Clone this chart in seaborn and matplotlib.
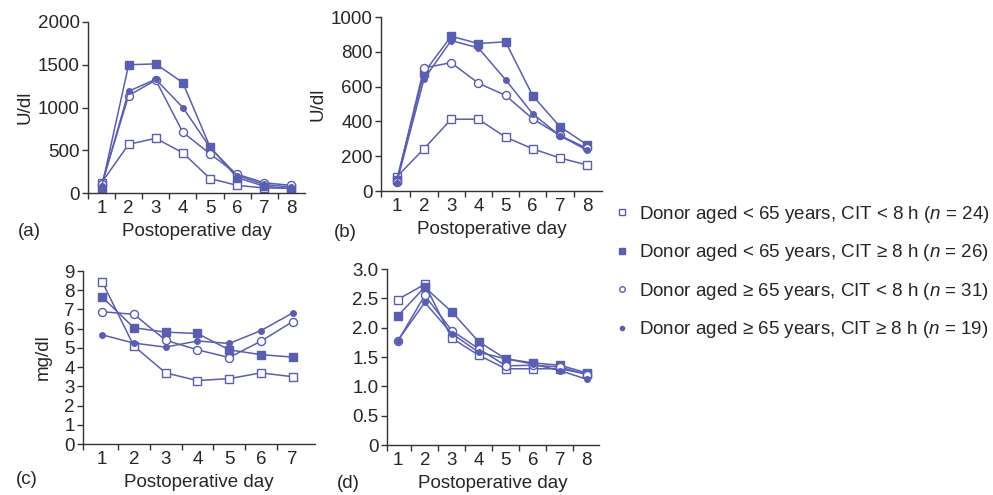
import matplotlib
matplotlib.use("Agg")
import matplotlib.pyplot as plt
from matplotlib.lines import Line2D
import seaborn as sns
import pandas as pd

sns.set_theme(style="ticks")
plt.rcParams['font.family'] = ['Liberation Sans', 'DejaVu Sans']
plt.rcParams['mathtext.fontset'] = 'custom'
plt.rcParams['mathtext.it'] = 'Liberation Sans:italic'
plt.rcParams['mathtext.rm'] = 'Liberation Sans'

COLOR = "#5a5eb0"
FS = 13.5

days8 = [1, 2, 3, 4, 5, 6, 7, 8]
days7 = [1, 2, 3, 4, 5, 6, 7]

series_labels = [
    "Donor aged < 65 years, CIT < 8 h ($n$ = 24)",
    "Donor aged < 65 years, CIT \u2265 8 h ($n$ = 26)",
    "Donor aged \u2265 65 years, CIT < 8 h ($n$ = 31)",
    "Donor aged \u2265 65 years, CIT \u2265 8 h ($n$ = 19)",
]

# Panel (a) U/dl
a_young_short = [120, 570, 640, 470, 170, 90, 60, 55]
a_young_long = [60, 1500, 1510, 1290, 540, 180, 80, 50]
a_old_short = [100, 1140, 1320, 710, 460, 220, 120, 90]
a_old_long = [80, 1190, 1330, 1000, 535, 205, 100, 70]

# Panel (b) U/dl
b_young_short = [82, 243, 413, 413, 310, 243, 190, 150]
b_young_long = [65, 680, 890, 848, 858, 548, 370, 266]
b_old_short = [55, 708, 738, 620, 550, 415, 320, 245]
b_old_long = [48, 643, 865, 823, 640, 444, 318, 235]

# Panel (c) mg/dl
c_young_short = [8.45, 5.1, 3.7, 3.3, 3.4, 3.7, 3.5]
c_young_long = [7.65, 6.05, 5.82, 5.75, 4.9, 4.65, 4.52]
c_old_short = [6.88, 6.75, 5.4, 4.9, 4.5, 5.35, 6.37]
c_old_long = [5.68, 5.25, 5.04, 5.36, 5.23, 5.9, 6.82]

# Panel (d)
d_young_short = [2.48, 2.74, 1.82, 1.53, 1.30, 1.30, 1.30, 1.21]
d_young_long = [2.20, 2.69, 2.27, 1.76, 1.47, 1.40, 1.36, 1.23]
d_old_short = [1.77, 2.55, 1.95, 1.64, 1.35, 1.36, 1.33, 1.20]
d_old_long = [1.78, 2.43, 1.90, 1.58, 1.47, 1.38, 1.27, 1.12]

styles = [
    dict(marker='s', markersize=5.2, markerfacecolor='white'),
    dict(marker='s', markersize=5.2, markerfacecolor=COLOR),
    dict(marker='o', markersize=5.8, markerfacecolor='white'),
    dict(marker='o', markersize=4, markerfacecolor=COLOR),
]

fig = plt.figure(figsize=(9.93, 4.95), dpi=100)

def panel(rect, days, data, xlim, ylim, yticks, yticklabels, ylabel, letter, letter_xy, ylabelpad=3):
    ax = fig.add_axes(rect)
    for vals, st, lab in zip(data, styles, series_labels):
        df = pd.DataFrame({"day": days, "value": vals})
        sns.lineplot(data=df, x="day", y="value", ax=ax, color=COLOR, linewidth=1.1,
                     markeredgecolor=COLOR, markeredgewidth=1.0, legend=False, **st)
    ax.set_xlim(*xlim)
    ax.set_ylim(*ylim)
    ax.set_yticks(yticks)
    ax.set_yticklabels(yticklabels, fontsize=FS)
    # category labels at integer days, tick marks at boundaries
    ax.set_xticks(days)
    ax.set_xticklabels([str(d) for d in days], fontsize=FS)
    ax.tick_params(axis='x', length=0, pad=5)
    ax.set_xticks([d + 0.5 for d in days[:-1]] + [xlim[0]], minor=True)
    ax.tick_params(axis='x', which='minor', length=4, width=1, color='#333333')
    ax.tick_params(axis='y', length=4, width=1, color='#333333', pad=2)
    for s in ['top', 'right']:
        ax.spines[s].set_visible(False)
    for s in ['left', 'bottom']:
        ax.spines[s].set_color('#333333')
        ax.spines[s].set_linewidth(1.0)
    ax.set_xlabel("Postoperative day", fontsize=FS, labelpad=4)
    ax.set_ylabel(ylabel, fontsize=FS, labelpad=ylabelpad)
    fig.text(letter_xy[0], letter_xy[1], letter, fontsize=FS, ha='left', va='center')
    return ax

panel([0.0886, 0.610, 0.2184, 0.3456], days8,
      [a_young_short, a_young_long, a_old_short, a_old_long],
      (0.5, 8.5), (0, 2000), [0, 500, 1000, 1500, 2000],
      ["0", "500", "1000", "1500", "2000"], "U/dl", "(a)", (0.018, 1 - 231 / 495))

panel([0.3837, 0.614, 0.2226, 0.3515], days8,
      [b_young_short, b_young_long, b_old_short, b_old_long],
      (0.42, 8.55), (0, 1000), [0, 200, 400, 600, 800, 1000],
      ["0", "200", "400", "600", "800", "1000"], "U/dl", "(b)", (0.336, 1 - 233 / 495))

panel([0.0836, 0.103, 0.2336, 0.3495], days7,
      [c_young_short, c_young_long, c_old_short, c_old_long],
      (0.4, 7.7), (0, 9), list(range(10)),
      [str(i) for i in range(10)], "mg/dl", "(c)", (0.016, 1 - 480 / 495), ylabelpad=9)

panel([0.3897, 0.101, 0.2135, 0.3555], days8,
      [d_young_short, d_young_long, d_old_short, d_old_long],
      (0.6, 8.45), (0, 3.0), [0, 0.5, 1.0, 1.5, 2.0, 2.5, 3.0],
      ["0", "0.5", "1.0", "1.5", "2.0", "2.5", "3.0"], "", "(d)", (0.339, 1 - 483 / 495))

handles = [
    Line2D([], [], linestyle='none', marker='s', markersize=4, markerfacecolor='white',
           markeredgecolor=COLOR, markeredgewidth=1.0),
    Line2D([], [], linestyle='none', marker='s', markersize=4, markerfacecolor=COLOR,
           markeredgecolor=COLOR),
    Line2D([], [], linestyle='none', marker='o', markersize=4, markerfacecolor='white',
           markeredgecolor=COLOR, markeredgewidth=1.0),
    Line2D([], [], linestyle='none', marker='o', markersize=3, markerfacecolor=COLOR,
           markeredgecolor=COLOR),
]
fig.legend(handles, series_labels, loc='center left', bbox_to_anchor=(0.611, 1 - 272 / 495),
           frameon=False, fontsize=FS, labelspacing=0.94, handlelength=0.6, handletextpad=0.6,
           borderpad=0)

fig.savefig("out.png", dpi=100)
